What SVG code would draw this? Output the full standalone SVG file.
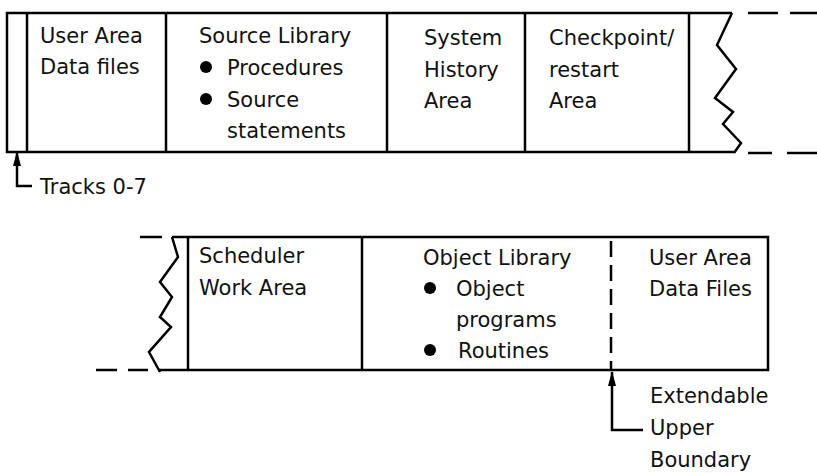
<svg xmlns="http://www.w3.org/2000/svg" width="817" height="473" viewBox="0 0 817 473">
  <style>
    .ln { fill: none; stroke: #000; stroke-width: 2.5; stroke-linejoin: miter; }
    .dash { fill: none; stroke: #000; stroke-width: 2.5; }
    .lbl { font-family: "DejaVu Sans", "Liberation Sans", sans-serif; font-size: 21px; fill: #111; }
    .dot { fill: #000; }
  </style>
  <defs>
    <!-- arrowhead drawn pointing along +x; reversed at the path start so it points back at the strip -->
    <marker id="head" viewBox="0 0 15 8" refX="14" refY="4" markerWidth="15" markerHeight="8" markerUnits="userSpaceOnUse" orient="auto-start-reverse">
      <path d="M15 4 L0 0 L0 8 Z" fill="#000"/>
    </marker>
  </defs>
  <rect width="817" height="473" fill="#fff"/>

  <!-- upper volume strip: outline, break and continuation -->
  <g id="upper-frame">
    <path class="ln" d="M732 13 L7 13 L7 152 L734 152"/>
    <polyline class="ln" points="732,13 717,45 736,69 715,98 733,112 723,124 741,143 734,153"/>
    <line class="dash" x1="748" y1="13" x2="778" y2="13"/>
    <line class="dash" x1="790" y1="13" x2="817" y2="13"/>
    <line class="dash" x1="748" y1="153" x2="772" y2="153"/>
    <line class="dash" x1="787" y1="153" x2="817" y2="153"/>
  </g>

  <g id="tracks-0-7">
    <line class="ln" x1="27" y1="13" x2="27" y2="152"/>
  </g>

  <g id="user-area-data-files">
    <line class="ln" x1="166" y1="13" x2="166" y2="152"/>
    <text class="lbl" x="40" y="43">User Area</text>
    <text class="lbl" x="40" y="74">Data files</text>
  </g>

  <g id="source-library">
    <line class="ln" x1="387" y1="13" x2="387" y2="152"/>
    <text class="lbl" x="199" y="43">Source Library</text>
    <circle class="dot" cx="206" cy="67" r="6"/>
    <text class="lbl" x="227" y="75">Procedures</text>
    <circle class="dot" cx="206" cy="99" r="6"/>
    <text class="lbl" x="227" y="107">Source</text>
    <text class="lbl" x="227" y="138">statements</text>
  </g>

  <g id="system-history-area">
    <line class="ln" x1="525" y1="13" x2="525" y2="152"/>
    <text class="lbl" x="424" y="45">System</text>
    <text class="lbl" x="424" y="77">History</text>
    <text class="lbl" x="424" y="108">Area</text>
  </g>

  <g id="checkpoint-restart-area">
    <line class="ln" x1="689" y1="13" x2="689" y2="152"/>
    <text class="lbl" x="549" y="45">Checkpoint/</text>
    <text class="lbl" x="549" y="77">restart</text>
    <text class="lbl" x="549" y="108">Area</text>
  </g>

  <!-- lower volume strip: continuation, break and outline -->
  <g id="lower-frame">
    <line class="dash" x1="140" y1="237" x2="162" y2="237"/>
    <line class="dash" x1="96" y1="370" x2="117" y2="370"/>
    <line class="dash" x1="128" y1="370" x2="148" y2="370"/>
    <polyline class="ln" points="172,237 178,257 160,282 172,297 160,317 171,327 149,352 160,372"/>
    <path class="ln" d="M172 237 L768 237 L768 370 L158 370"/>
  </g>

  <g id="scheduler-work-area">
    <line class="ln" x1="188" y1="237" x2="188" y2="370"/>
    <text class="lbl" x="199" y="263">Scheduler</text>
    <text class="lbl" x="199" y="295">Work Area</text>
  </g>

  <g id="object-library">
    <line class="ln" x1="362" y1="237" x2="362" y2="370"/>
    <text class="lbl" x="423" y="265">Object Library</text>
    <circle class="dot" cx="430" cy="288" r="6"/>
    <text class="lbl" x="456" y="296">Object</text>
    <text class="lbl" x="456" y="327">programs</text>
    <circle class="dot" cx="430" cy="350" r="6"/>
    <text class="lbl" x="458" y="358">Routines</text>
  </g>

  <g id="user-area-data-files-2">
    <line class="dash" x1="611" y1="237" x2="611" y2="370" stroke-dasharray="16 8" stroke-dashoffset="-4"/>
    <text class="lbl" x="649" y="265">User Area</text>
    <text class="lbl" x="649" y="296">Data Files</text>
  </g>

  <!-- callout arrows -->
  <g id="connectors">
    <path class="ln" d="M17 152 L17 186 L32 186" marker-start="url(#head)"/>
    <path class="ln" d="M612 372 L612 430 L643 430" marker-start="url(#head)"/>
  </g>

  <g id="callout-labels">
    <text class="lbl" x="40" y="194">Tracks 0-7</text>
    <text class="lbl" x="650" y="403">Extendable</text>
    <text class="lbl" x="650" y="435">Upper</text>
    <text class="lbl" x="650" y="467">Boundary</text>
  </g>
</svg>
